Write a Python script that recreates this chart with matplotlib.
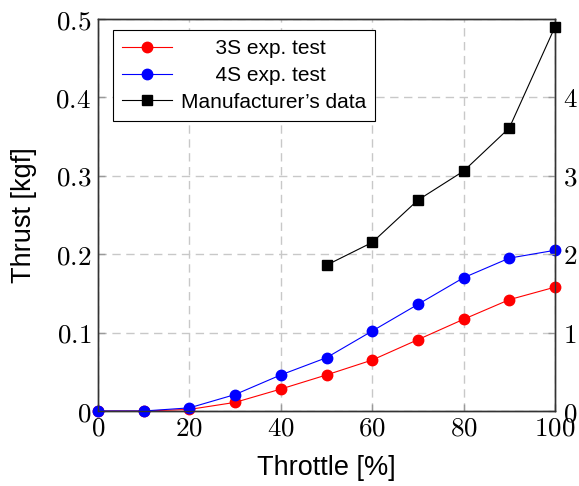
import matplotlib
matplotlib.use("Agg")
import matplotlib.pyplot as plt
from matplotlib.ticker import FuncFormatter

throttle = [0, 10, 20, 30, 40, 50, 60, 70, 80, 90, 100]
thrust_3s = [0.0, 0.0, 0.002, 0.011, 0.028, 0.046, 0.065, 0.091, 0.117, 0.142, 0.158]
thrust_4s = [0.0, 0.0, 0.004, 0.021, 0.046, 0.068, 0.102, 0.136, 0.170, 0.195, 0.205]
manuf_throttle = [50, 60, 70, 80, 90, 100]
manuf_thrust = [1.86, 2.15, 2.69, 3.06, 3.61, 4.90]

plt.rcParams['mathtext.fontset'] = 'cm'
sans = ['Liberation Sans', 'DejaVu Sans']

fig = plt.figure(figsize=(5.79, 4.86), dpi=100)
ax = fig.add_axes([98/579, 1-411/486, (555-98)/579, (411-19)/486])
ax2 = ax.twinx()

ax.plot(throttle, thrust_3s, '-o', color='red', lw=0.8, ms=7.5, clip_on=False, zorder=3, label='3S exp. test')
ax.plot(throttle, thrust_4s, '-o', color='blue', lw=0.8, ms=7.5, clip_on=False, zorder=3, label='4S exp. test')
ax2.plot(manuf_throttle, manuf_thrust, '-s', color='black', lw=0.8, ms=7, clip_on=False, zorder=3, label='Manufacturer\u2019s data')

ax.set_xlim(0, 100)
ax.set_ylim(0, 0.5)
ax2.set_ylim(0, 5)
ax.set_xticks([0, 20, 40, 60, 80, 100])
ax.set_yticks([0, 0.1, 0.2, 0.3, 0.4, 0.5])
ax2.set_yticks([0, 1, 2, 3, 4])

fmt = FuncFormatter(lambda v, p: '$%g$' % round(v, 3))
ax.xaxis.set_major_formatter(fmt)
ax.yaxis.set_major_formatter(fmt)
ax2.yaxis.set_major_formatter(fmt)

ax.grid(True, color='#c8c8c8', ls=(0, (6, 4)), lw=1.0)
ax.set_axisbelow(True)
for a in (ax, ax2):
    a.tick_params(direction='in', length=5, width=1, color='#999999', labelsize=19.5, pad=3)
    for s in a.spines.values():
        s.set_color('#333333')
        s.set_linewidth(1.0)
ax.tick_params(axis='y', pad=5)
ax2.tick_params(axis='y', pad=6)

ax.set_xlabel('Throttle [%]', fontsize=19.5, family=sans, labelpad=10)
ax.set_ylabel('Thrust [kgf]', fontsize=19.5, family=sans, labelpad=13)

h1, l1 = ax.get_legend_handles_labels()
h2, l2 = ax2.get_legend_handles_labels()
labels = ['      ' + l1[0], '      ' + l1[1], l2[0]]
leg = ax2.legend(h1 + h2, labels, loc='upper left', bbox_to_anchor=(0.033, 0.972),
                 prop={'family': sans, 'size': 15}, frameon=True, fancybox=False,
                 edgecolor='black', framealpha=1, handlelength=2.4, borderpad=0.45,
                 labelspacing=0.37, handletextpad=0.4, borderaxespad=0)
leg.get_frame().set_linewidth(0.8)

fig.savefig('out.png', dpi=100)
